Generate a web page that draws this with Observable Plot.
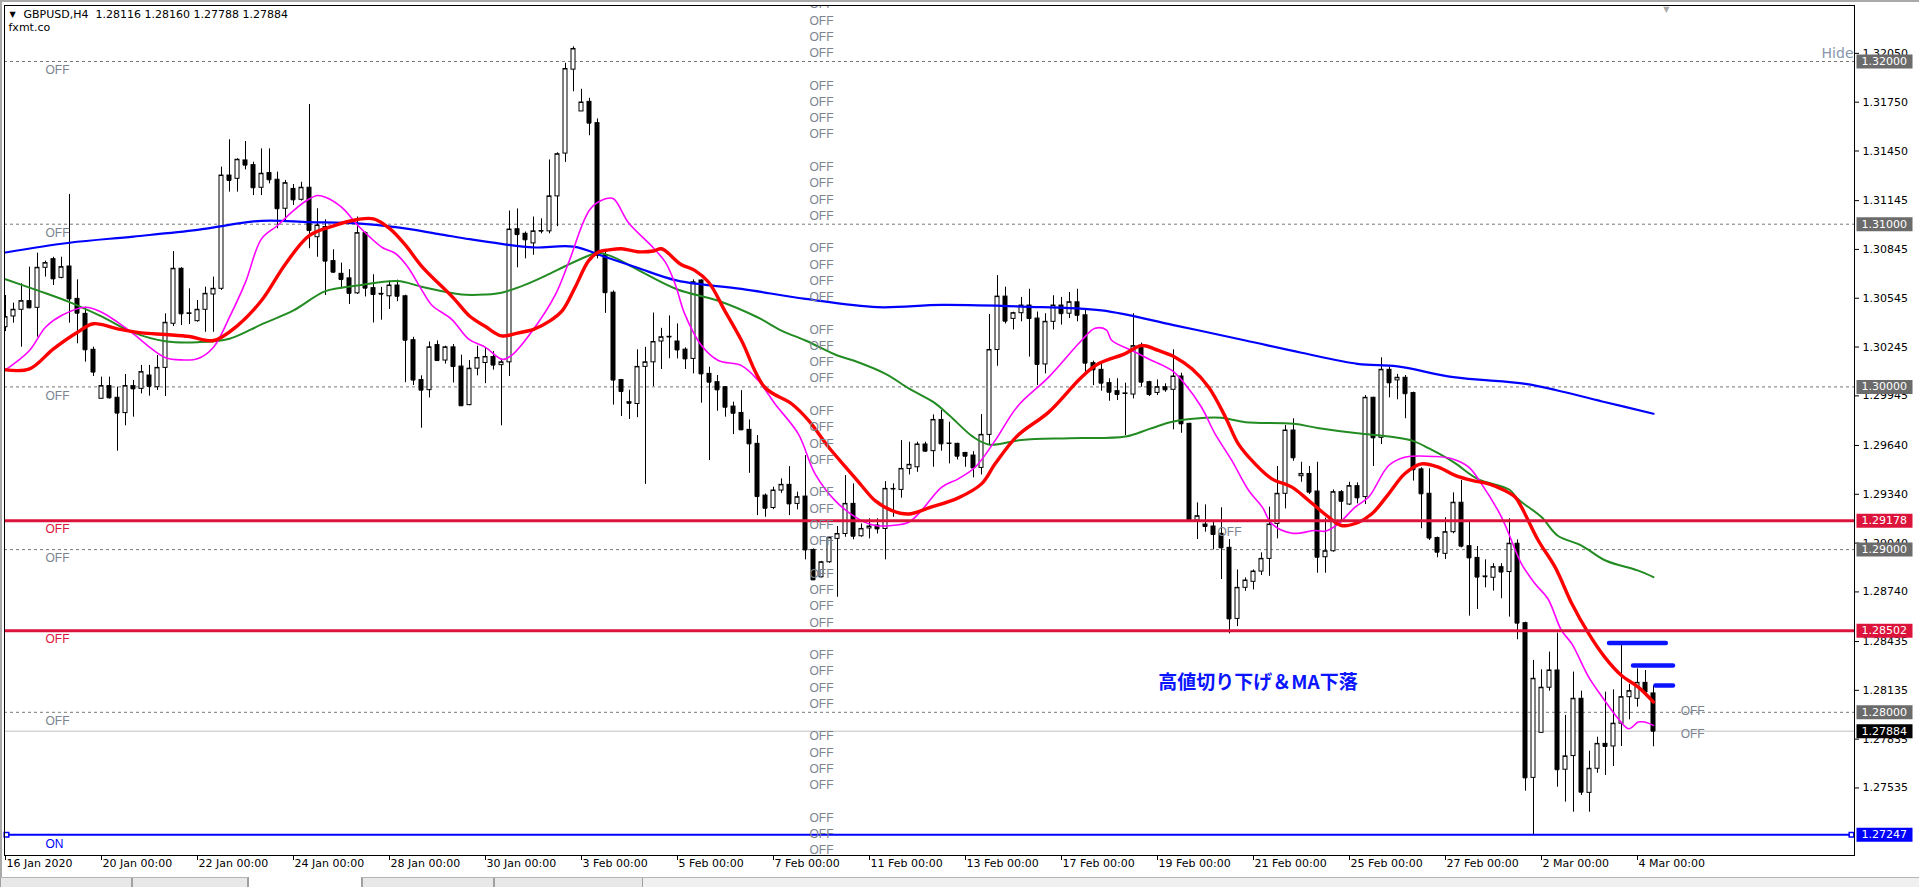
<!DOCTYPE html>
<html><head><meta charset="utf-8">
<script src="https://cdn.jsdelivr.net/npm/d3@7"></script>
<script src="https://cdn.jsdelivr.net/npm/@observablehq/plot@0.6"></script>
<style>
html,body{margin:0;padding:0;background:#fff;}
#wrap{width:1919px;height:887px;position:relative;overflow:hidden;background:#fff;}
#chart{position:absolute;left:0;top:0;}
#edgeL{position:absolute;left:0;top:0;width:2px;height:877px;background:#a9a9a9;}
#edgeT{position:absolute;left:0;top:0;width:1919px;height:2px;background:#a9a9a9;}
#tabs{position:absolute;left:0;top:877px;width:1919px;height:10px;background:#f0f0f0;border-top:1px solid #b4b4b4;box-sizing:border-box;}
#tabs div{position:absolute;top:0;height:10px;border-left:1px solid #a0a0a0;border-right:1px solid #a0a0a0;box-sizing:border-box;background:#e8e8e8;}
#tabs div.on{background:#fff;top:-1px;height:11px;}
</style></head><body><div id="wrap"><div id="chart"></div><div id="edgeL"></div><div id="edgeT"></div><div id="tabs"><div style="left:0;width:132px"></div><div style="left:132px;width:116px"></div><div class="on" style="left:248px;width:114px"></div><div style="left:362px;width:132px"></div><div style="left:494px;width:149px"></div></div></div>
<script>
// ---- OHLC data (GBPUSD H4, 16 Jan 2020 00:00 .. 4 Mar 2020 08:00), bar index 0..206 ----
const open = [
1.30367,1.30433,1.30474,1.30527,1.30486,1.30732,1.30785,1.30670,1.30740,1.30541,
1.30449,1.30228,1.29927,1.30005,1.29933,1.29839,1.30005,1.29988,1.30070,1.29998,
1.30117,1.30388,1.30726,1.30449,1.30404,1.30474,1.30568,1.30603,1.31299,1.31279,
1.31392,1.31363,1.31224,1.31314,1.31273,1.31095,1.31217,1.31150,1.31224,1.30920,
1.30982,1.30773,1.30695,1.30667,1.30575,1.30945,1.30607,1.30572,1.30557,1.30623,
1.30557,1.30287,1.30042,1.29980,1.30257,1.30162,1.30243,1.30125,1.29888,1.30112,
1.30147,1.30184,1.30134,1.30151,1.30969,1.30941,1.30882,1.30956,1.30956,1.31171,
1.31434,1.31950,1.31693,1.31752,1.31621,1.30809,1.30579,1.30042,1.29906,1.29895,
1.30123,1.30151,1.30279,1.30305,1.30279,1.30229,1.30172,1.30654,1.30080,1.30029,
1.29998,1.29879,1.29840,1.29736,1.29650,1.29332,1.29256,1.29363,1.29398,1.29281,
1.29326,1.28998,1.28830,1.28922,1.29066,1.29096,1.29281,1.29082,1.29130,1.29148,
1.29127,1.29371,1.29367,1.29496,1.29506,1.29646,1.29605,1.29797,1.29650,1.29650,
1.29594,1.29578,1.29502,1.29705,1.30227,1.30555,1.30418,1.30453,1.30500,1.30420,
1.30138,1.30400,1.30500,1.30450,1.30520,1.30440,1.30146,1.30105,1.30023,1.29974,
1.29957,1.29953,1.30254,1.30029,1.29963,1.29998,1.29982,1.30064,1.29773,1.29179,
1.29154,1.29142,1.29097,1.29011,1.28574,1.28765,1.28802,1.28865,1.28943,1.29158,
1.29343,1.29732,1.29451,1.29465,1.29357,1.28953,1.28990,1.29353,1.29277,1.29390,
1.29323,1.29933,1.29687,1.30105,1.30040,1.30056,1.29962,1.29493,1.29343,1.29071,
1.28974,1.29107,1.29288,1.29021,1.28949,1.28835,1.28827,1.28892,1.28862,1.29036,
1.28548,1.27597,1.27874,1.28151,1.28257,1.27647,1.27731,1.28083,1.27505,1.27653,
1.27806,1.27790,1.27930,1.28093,1.28083,1.28181,1.28116];
const high = [
1.30562,1.30515,1.30634,1.30736,1.30822,1.30773,1.30797,1.30797,1.31183,1.30658,
1.30490,1.30244,1.30060,1.30060,1.29998,1.30076,1.30039,1.30132,1.30132,1.30193,
1.30449,1.30832,1.30732,1.30603,1.30531,1.30613,1.30675,1.31351,1.31519,1.31402,
1.31508,1.31381,1.31463,1.31463,1.31320,1.31269,1.31244,1.31258,1.31736,1.31095,
1.31027,1.30843,1.30761,1.30721,1.31044,1.30952,1.30689,1.30612,1.30651,1.30656,
1.30564,1.30305,1.30068,1.30276,1.30283,1.30250,1.30261,1.30195,1.30162,1.30250,
1.30243,1.30217,1.30173,1.31081,1.31094,1.30952,1.31044,1.31033,1.31395,1.31439,
1.31989,1.32090,1.31829,1.31774,1.31647,1.30831,1.30590,1.30046,1.29980,1.30228,
1.30243,1.30454,1.30360,1.30436,1.30387,1.30240,1.30658,1.30658,1.30121,1.30070,
1.30002,1.29906,1.29977,1.29797,1.29701,1.29342,1.29383,1.29435,1.29510,1.29353,
1.29578,1.29004,1.28928,1.29076,1.29142,1.29455,1.29404,1.29158,1.29189,1.29189,
1.29418,1.29404,1.29670,1.29660,1.29660,1.29660,1.29828,1.29855,1.29783,1.29654,
1.29598,1.29602,1.29830,1.30445,1.30684,1.30613,1.30459,1.30550,1.30600,1.30460,
1.30450,1.30560,1.30550,1.30580,1.30600,1.30480,1.30158,1.30142,1.30050,1.30050,
1.30023,1.30450,1.30269,1.30035,1.30043,1.30019,1.30228,1.30084,1.29777,1.29287,
1.29275,1.29168,1.29257,1.29062,1.28875,1.28826,1.28875,1.28980,1.29261,1.29511,
1.29763,1.29804,1.29537,1.29511,1.29537,1.29193,1.29367,1.29363,1.29414,1.29410,
1.29947,1.29937,1.30179,1.30122,1.30077,1.30070,1.29968,1.29503,1.29497,1.29077,
1.29196,1.29349,1.29425,1.29169,1.29019,1.28937,1.28913,1.28913,1.29189,1.29060,
1.28554,1.28319,1.28261,1.28370,1.28487,1.27981,1.28247,1.28130,1.27761,1.27847,
1.28124,1.28138,1.28411,1.28171,1.28267,1.28257,1.28160];
const low = [
1.30340,1.30392,1.30244,1.30480,1.30306,1.30675,1.30623,1.30664,1.30392,1.30265,
1.30152,1.30064,1.29927,1.29925,1.29605,1.29761,1.29814,1.29957,1.29943,1.29978,
1.29941,1.30371,1.30377,1.30384,1.30398,1.30336,1.30336,1.30593,1.31197,1.31197,
1.31334,1.31176,1.31176,1.31248,1.30972,1.31013,1.31115,1.31142,1.30849,1.30797,
1.30562,1.30699,1.30601,1.30507,1.30568,1.30553,1.30393,1.30410,1.30476,1.30524,
1.30026,1.30009,1.29746,1.29932,1.30156,1.30140,1.30024,1.29879,1.29884,1.30068,
1.30020,1.30103,1.29761,1.30064,1.30732,1.30787,1.30809,1.30941,1.30941,1.30985,
1.31380,1.31814,1.31693,1.31544,1.30787,1.30452,1.29888,1.29818,1.29800,1.29811,
1.29401,1.30002,1.30107,1.30173,1.30172,1.30107,1.30080,1.29900,1.29547,1.29850,
1.29814,1.29707,1.29732,1.29469,1.29209,1.29199,1.29246,1.29346,1.29209,1.29244,
1.28937,1.28810,1.28826,1.28916,1.28707,1.29076,1.29060,1.29076,1.29066,1.29096,
1.28937,1.29199,1.29316,1.29459,1.29475,1.29598,1.29506,1.29605,1.29527,1.29551,
1.29506,1.29441,1.29459,1.29646,1.30127,1.30387,1.30350,1.30400,1.30183,1.30008,
1.30080,1.30350,1.30380,1.30420,1.30400,1.30090,1.30008,1.29974,1.29912,1.29916,
1.29701,1.29926,1.29998,1.29941,1.29947,1.29967,1.29736,1.29715,1.29175,1.29062,
1.29107,1.28998,1.28816,1.28482,1.28527,1.28744,1.28752,1.28841,1.28836,1.29066,
1.29250,1.29543,1.29414,1.29338,1.28855,1.28855,1.28984,1.29168,1.29271,1.29281,
1.29277,1.29511,1.29646,1.29933,1.29921,1.29804,1.29421,1.29128,1.29056,1.28950,
1.28939,1.29097,1.29011,1.28591,1.28632,1.28765,1.28745,1.28698,1.28585,1.28446,
1.27515,1.27247,1.27872,1.28130,1.27540,1.27448,1.27386,1.27489,1.27386,1.27626,
1.27612,1.27667,1.27790,1.27954,1.28032,1.28104,1.27788];
const close = [
1.30429,1.30474,1.30527,1.30486,1.30732,1.30761,1.30664,1.30736,1.30541,1.30453,
1.30228,1.30091,1.30005,1.29933,1.29839,1.30005,1.29988,1.30091,1.30003,1.30117,
1.30394,1.30726,1.30449,1.30452,1.30474,1.30572,1.30603,1.31299,1.31269,1.31396,
1.31363,1.31224,1.31310,1.31273,1.31095,1.31252,1.31150,1.31224,1.30961,1.30992,
1.30773,1.30705,1.30660,1.30575,1.30945,1.30607,1.30568,1.30570,1.30623,1.30557,
1.30287,1.30042,1.29980,1.30243,1.30162,1.30243,1.30125,1.29884,1.30112,1.30178,
1.30184,1.30134,1.30151,1.30967,1.30936,1.30904,1.30956,1.30958,1.31171,1.31430,
1.31954,1.32077,1.31748,1.31621,1.30809,1.30579,1.30042,1.29972,1.29899,1.30123,
1.30151,1.30276,1.30305,1.30308,1.30227,1.30172,1.30643,1.30080,1.30029,1.29982,
1.29875,1.29838,1.29736,1.29650,1.29326,1.29254,1.29363,1.29398,1.29281,1.29322,
1.28998,1.28814,1.28922,1.29072,1.29096,1.29281,1.29082,1.29127,1.29142,1.29127,
1.29373,1.29373,1.29496,1.29521,1.29646,1.29605,1.29797,1.29650,1.29652,1.29574,
1.29574,1.29502,1.29705,1.30227,1.30555,1.30404,1.30453,1.30500,1.30420,1.30138,
1.30400,1.30500,1.30450,1.30520,1.30440,1.30146,1.30105,1.30023,1.29967,1.29953,
1.29960,1.30250,1.30029,1.29953,1.29998,1.29982,1.30064,1.29773,1.29179,1.29205,
1.29142,1.29093,1.29011,1.28574,1.28765,1.28810,1.28865,1.28943,1.29154,1.29343,
1.29732,1.29564,1.29465,1.29353,1.28953,1.28990,1.29353,1.29297,1.29390,1.29318,
1.29933,1.29687,1.30105,1.30025,1.30056,1.29958,1.29491,1.29343,1.29071,1.28984,
1.29107,1.29288,1.29021,1.28949,1.28831,1.28833,1.28892,1.28862,1.29036,1.28548,
1.27597,1.28206,1.28151,1.28257,1.27647,1.27729,1.28083,1.27509,1.27653,1.27806,
1.27790,1.27930,1.28093,1.28130,1.28181,1.28124,1.27884];

// ---- moving averages: [bar index], [price] ----
const maBlueIdx = [0,8,16,24,32,38,44,49,54,58,62,66,71,75,79,84,92,100,109,117,127,137,146,155,162,169,174,181,190,194,200,206];
const maBlueVal = [1.30826,1.30886,1.30924,1.30965,1.31021,1.31013,1.31005,1.30980,1.30941,1.30908,1.30879,1.30857,1.30862,1.30798,1.30732,1.30653,1.30602,1.30541,1.30490,1.30504,1.30494,1.30470,1.30380,1.30285,1.30210,1.30142,1.30126,1.30060,1.30019,1.29978,1.29906,1.29835];
const maGreenIdx = [0,4,8,12,16,20,24,28,32,36,40,44,49,52,57,60,62,65,68,70,73,74,76,79,84,89,94,97,100,104,106,110,113,116,118,121,123,127,133,140,143,146,150,152,155,161,164,169,173,176,178,181,184,188,189,192,194,197,200,204,206];
const maGreenVal = [1.30662,1.30593,1.30521,1.30433,1.30334,1.30281,1.30275,1.30296,1.30384,1.30470,1.30589,1.30623,1.30651,1.30616,1.30568,1.30568,1.30579,1.30629,1.30695,1.30743,1.30809,1.30825,1.30798,1.30721,1.30599,1.30531,1.30428,1.30346,1.30285,1.30193,1.30162,1.30080,1.29988,1.29906,1.29824,1.29691,1.29645,1.29674,1.29685,1.29695,1.29742,1.29787,1.29810,1.29810,1.29783,1.29773,1.29748,1.29715,1.29695,1.29667,1.29620,1.29538,1.29435,1.29368,1.29312,1.29200,1.29087,1.29025,1.28933,1.28872,1.28831];
const maRedIdx = [0,3,6,9,11,14,17,20,23,26,29,32,35,38,41,44,46,48,50,52,56,58,60,62,64,66,68,69.6,71.2,72.9,74.2,75.4,77,79,81,82,84.4,86.2,87.9,89.9,92,94.9,98.3,100.4,102.9,105.4,107,108.7,110.8,112.9,115.4,119.1,122,123.7,126.5,130.4,134.5,136.6,139.9,142,144.1,146.2,148.3,150.4,152.5,154.1,156.2,158.3,160.8,162.9,165.4,167,169,170.8,172.9,174.9,177,179.1,181.2,183.3,185.4,187.4,188.7,189.5,191.6,193.7,195.8,197.9,199.9,202,204.1,206];
const maRedVal = [1.30105,1.30111,1.30234,1.30336,1.30388,1.30357,1.30332,1.30322,1.30310,1.30285,1.30377,1.30531,1.30756,1.30931,1.30990,1.31029,1.31033,1.30974,1.30871,1.30743,1.30546,1.30436,1.30371,1.30314,1.30331,1.30353,1.30404,1.30469,1.30612,1.30776,1.30831,1.30842,1.30849,1.30831,1.30835,1.30849,1.30754,1.30715,1.30643,1.30469,1.30285,1.29998,1.29895,1.29793,1.29629,1.29486,1.29394,1.29301,1.29240,1.29219,1.29256,1.29318,1.29404,1.29527,1.29700,1.29845,1.30060,1.30142,1.30203,1.30254,1.30224,1.30183,1.30111,1.29998,1.29814,1.29650,1.29527,1.29435,1.29384,1.29302,1.29199,1.29148,1.29165,1.29220,1.29343,1.29466,1.29527,1.29507,1.29456,1.29425,1.29404,1.29363,1.29323,1.29261,1.29056,1.28892,1.28667,1.28483,1.28339,1.28226,1.28155,1.28063];
const maPinkIdx = [0,3,5,7,10,12,14,16,18,20,22,24,26,28,30,32,34,36,38,39,40,42,44.2,47.1,48.75,50.2,52.1,53.3,55.8,57.9,60,62.1,63.3,66.25,68.75,70.4,73.1,75,76,77.9,80.8,82.5,83.7,84.9,87,89.1,92,94.1,96.2,99.1,101.2,103.7,106.6,108.7,110.8,112.9,114.5,117,119.1,121.2,123.7,126.5,130.4,134.5,136.2,137.6,138.3,140.8,142.9,145.8,147.4,149.5,151.2,153.3,155.4,157.1,158.3,160.8,163.7,165,166.6,168.7,170.4,172.9,174.9,178.7,180.8,182.9,184.5,187,189.5,191.2,192.8,194.5,195.8,197.9,199.9,201.6,202.9,204.1,204.9,206];
const maPinkVal = [1.30105,1.30224,1.30367,1.30439,1.30490,1.30459,1.30398,1.30326,1.30244,1.30179,1.30166,1.30173,1.30244,1.30429,1.30644,1.30910,1.30992,1.31084,1.31156,1.31176,1.31166,1.31105,1.30985,1.30857,1.30820,1.30743,1.30590,1.30502,1.30414,1.30294,1.30243,1.30169,1.30195,1.30371,1.30568,1.30765,1.31094,1.31156,1.31156,1.31007,1.30864,1.30765,1.30633,1.30449,1.30254,1.30162,1.30131,1.30039,1.29895,1.29711,1.29465,1.29301,1.29189,1.29148,1.29148,1.29168,1.29240,1.29383,1.29435,1.29506,1.29670,1.29880,1.30060,1.30285,1.30360,1.30350,1.30285,1.30224,1.30172,1.30101,1.30019,1.29875,1.29711,1.29547,1.29363,1.29261,1.29158,1.29101,1.29117,1.29113,1.29158,1.29261,1.29323,1.29517,1.29568,1.29572,1.29558,1.29507,1.29404,1.29200,1.28913,1.28790,1.28698,1.28503,1.28421,1.28216,1.28073,1.27960,1.27899,1.27940,1.27940,1.27919];

// ---- horizontal levels and labels ----
const roundLevels = [1.32, 1.31, 1.30, 1.29, 1.28];
const redLevels = [1.29178, 1.28502];
const blueLevel = [1.27247];
const lastPrice = [1.27884];
const axisTicks = [1.32050,1.31750,1.31450,1.31145,1.30845,1.30545,1.30245,1.29945,1.29640,1.29340,1.29040,1.28740,1.28435,1.28135,1.27835,1.27535];
const boxValues = [1.32000,1.31000,1.30000,1.29178,1.29000,1.28502,1.28000,1.27884,1.27247];
const boxColors = ["#6b6b6b","#6b6b6b","#6b6b6b","#dc143c","#6b6b6b","#dc143c","#6b6b6b","#000000","#0000ff"];
const leftTagLevels = [1.32, 1.31, 1.30, 1.29178, 1.29, 1.28502, 1.28, 1.27247];
const leftTagText = ["OFF","OFF","OFF","OFF","OFF","OFF","OFF","ON"];
const leftTagColors = ["#7b8390","#7b8390","#7b8390","#dc143c","#7b8390","#dc143c","#7b8390","#0000ff"];
const offColumnLevels = [1.3240,1.3230,1.3220,1.3210,1.3190,1.3180,1.3170,1.3160,1.3140,1.3130,1.3120,1.3110,1.3090,1.3080,1.3070,1.3060,1.3040,1.3030,1.3020,1.3010,1.2990,1.2980,1.2970,1.2960,1.2940,1.2930,1.2920,1.2910,1.2890,1.2880,1.2870,1.2860,1.2840,1.2830,1.2820,1.2810,1.2790,1.2780,1.2770,1.2760,1.2740,1.2730,1.2720,1.2710];
const offColumnBar = 100.5;
const extraOffBar = [151.5, 209.4, 209.4];
const extraOffPrice = [1.29105, 1.28005, 1.27863];
const segStart = [200.5, 203.5, 206.3];
const segEnd = [207.6, 208.5, 208.5];
const segLevel = [1.28426, 1.28288, 1.28165];
const noteText = "高値切り下げ＆MA下落";
const noteBar = 144.1;
const notePrice = 1.28183;
const xTickBars = [0,12,24,36,48,60,72,84,96,108,120,132,144,156,168,180,192,204];
const xTickLabels = ["16 Jan 2020","20 Jan 00:00","22 Jan 00:00","24 Jan 00:00","28 Jan 00:00","30 Jan 00:00","3 Feb 00:00","5 Feb 00:00","7 Feb 00:00","11 Feb 00:00","13 Feb 00:00","17 Feb 00:00","19 Feb 00:00","21 Feb 00:00","25 Feb 00:00","27 Feb 00:00","2 Mar 00:00","4 Mar 00:00"];
const headerText = "GBPUSD,H4  1.28116 1.28160 1.27788 1.27884";
const brokerText = "fxmt.co";
const shiftMarkBar = 207.6;

// ---- build tables ----
const bars = open.map((o, i) => ({i, o, h: high[i], l: low[i], c: close[i]}));
const ma = (idx, val) => idx.map((x, k) => ({x, y: val[k]}));
const boxes = boxValues.map((v, k) => ({v, c: boxColors[k]}));
const leftTags = leftTagLevels.map((v, k) => ({v, t: leftTagText[k], c: leftTagColors[k]}));
const extraOff = extraOffBar.map((x, k) => ({x, y: extraOffPrice[k]}));
const segs = segLevel.map((y, k) => ({y, x1: segStart[k], x2: segEnd[k]}));
const boxSymbol = {draw(ctx) { ctx.rect(-28, -7, 56, 14); }};
const F = "DejaVu Sans, Tahoma, sans-serif";
const grey = "#7b8390";

const chart = Plot.plot({
  width: 1919, height: 877,
  marginLeft: 4, marginRight: 65, marginTop: 5, marginBottom: 22,
  x: {type: "linear", domain: [-0.125, 231.125], axis: null},
  y: {type: "linear", domain: [1.271199, 1.323442], axis: null},
  color: {type: "identity"},
  style: {fontFamily: F, fontSize: "11px", background: "#fff", overflow: "visible"},
  marks: [
    Plot.ruleY(roundLevels, {stroke: "#777", strokeDasharray: "3,3"}),
    Plot.ruleY(lastPrice, {stroke: "#c0c0c0"}),
    Plot.ruleX(bars, {x: "i", y1: "l", y2: "h", stroke: "#000", clip: true}),
    Plot.rect(bars, {x1: d => d.i - 0.25, x2: d => d.i + 0.25, y1: "o", y2: "c",
      fill: d => d.c >= d.o ? "#fff" : "#000", stroke: "#000", clip: true}),
    Plot.ruleY(bars, {y: "c", x1: d => d.i - 0.25, x2: d => d.i + 0.25, stroke: "#000", clip: true}),
    Plot.line(ma(maGreenIdx, maGreenVal), {x: "x", y: "y", stroke: "#228b22", strokeWidth: 2, curve: "catmull-rom", clip: true}),
    Plot.line(ma(maBlueIdx, maBlueVal), {x: "x", y: "y", stroke: "#0000ff", strokeWidth: 2.2, curve: "catmull-rom", clip: true}),
    Plot.line(ma(maPinkIdx, maPinkVal), {x: "x", y: "y", stroke: "#ff00ff", strokeWidth: 1.6, curve: "catmull-rom", clip: true}),
    Plot.line(ma(maRedIdx, maRedVal), {x: "x", y: "y", stroke: "#ff0000", strokeWidth: 3.4, curve: "catmull-rom", clip: true}),
    Plot.ruleY(redLevels, {stroke: "#dc143c", strokeWidth: 3}),
    Plot.ruleY(blueLevel, {stroke: "#0000ff", strokeWidth: 2}),
    Plot.dot(blueLevel, {y: d => d, frameAnchor: "left", dx: 2, symbol: "square", r: 2.6, stroke: "#0000ff", fill: "#fff", strokeWidth: 1.5}),
    Plot.dot(blueLevel, {y: d => d, frameAnchor: "right", dx: -3, symbol: "square", r: 2.6, stroke: "#0000ff", fill: "#fff", strokeWidth: 1.5}),
    Plot.ruleY(segs, {y: "y", x1: "x1", x2: "x2", stroke: "#0a14ff", strokeWidth: 4.5, strokeLinecap: "round"}),
    Plot.text(offColumnLevels, {x: () => offColumnBar, y: d => d, text: () => "OFF", dy: 8, textAnchor: "start",
      fill: grey, fontFamily: "Liberation Sans, Arial, sans-serif", fontSize: 12, clip: true}),
    Plot.text(extraOff, {x: "x", y: "y", text: () => "OFF", textAnchor: "start", fill: grey,
      fontFamily: "Liberation Sans, Arial, sans-serif", fontSize: 12}),
    Plot.text(leftTags, {y: "v", text: "t", fill: "c", frameAnchor: "left", dx: 41, dy: 9, textAnchor: "start",
      fontFamily: "Liberation Sans, Arial, sans-serif", fontSize: 12}),
    Plot.text([noteText], {x: () => noteBar, y: () => notePrice, text: d => d, textAnchor: "start",
      fill: "#0a14ff", fontWeight: "bold", fontSize: 19, fontFamily: "Noto Sans CJK JP, sans-serif"}),
    Plot.text([headerText], {frameAnchor: "top-left", text: d => d, dx: 19, dy: 5, lineAnchor: "top", fill: "#000", fontSize: 11}),
    Plot.text(["▼"], {frameAnchor: "top-left", text: d => d, dx: 5, dy: 6, lineAnchor: "top", fill: "#000", fontSize: 8}),
    Plot.text([brokerText], {frameAnchor: "top-left", text: d => d, dx: 4, dy: 18, lineAnchor: "top", fill: "#000", fontSize: 11}),
    Plot.text(["Hide"], {frameAnchor: "top-right", text: d => d, dx: -1, dy: 48, lineAnchor: "middle", textAnchor: "end", fill: "#8796aa", fontSize: 14}),
    Plot.text(["▼"], {x: () => shiftMarkBar, frameAnchor: "top", text: d => d, dy: 1, lineAnchor: "top", fill: "#a8a8a8", fontSize: 8}),
    Plot.axisY(axisTicks, {anchor: "right", tickSize: 4, tickPadding: 4, tickFormat: d => d.toFixed(5), fontSize: 11, label: null}),
    Plot.dot(boxes, {y: "v", frameAnchor: "right", dx: 30, symbol: boxSymbol, fill: "c"}),
    Plot.text(boxes, {y: "v", frameAnchor: "right", dx: 7, text: d => d.v.toFixed(5), textAnchor: "start", fill: "#fff", fontSize: 11}),
    Plot.axisX(xTickBars, {anchor: "bottom", tickSize: 5, tickFormat: () => "", label: null}),
    Plot.text(xTickBars, {x: d => d, frameAnchor: "bottom", dy: 11, dx: 1, textAnchor: "start", text: (d, k) => xTickLabels[k], fill: "#000", fontSize: 11}),
    Plot.frame({stroke: "#000"})
  ]
});
document.getElementById("chart").appendChild(chart);
</script></body></html>
